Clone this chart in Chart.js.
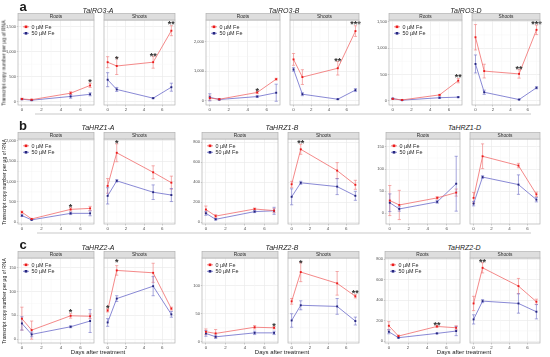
<!DOCTYPE html>
<html><head><meta charset="utf-8">
<script src="https://cdn.jsdelivr.net/npm/chart.js@4.4.1/dist/chart.umd.min.js"></script>
<style>
html,body{margin:0;padding:0;background:#fff;}
#wrap{position:relative;width:550px;height:357px;overflow:hidden;font-family:"Liberation Sans",Arial,sans-serif;}
canvas{position:absolute;}
.t{position:absolute;white-space:nowrap;color:#1a1a1a;line-height:1;}
.sep{position:absolute;height:1.5px;background:#e4e4e4;}
</style></head>
<body><div id="wrap"></div>
<script>
// ---------------- data ----------------
const days = [0, 1, 5, 7];
const xTickValues = [0, 2, 4, 6];
const genes = ['TaIRO3-A','TaIRO3-B','TaIRO3-D','TaHRZ1-A','TaHRZ1-B','TaHRZ1-D','TaHRZ2-A','TaHRZ2-B','TaHRZ2-D'];
const rowLetters = ['a','b','c'];
const seriesNames = ['0 \u00b5M Fe','50 \u00b5M Fe'];
const facetNames = ['Roots','Shoots'];
const yAxisTitle = 'Transcript copy number per \u00b5g of RNA';
const xAxisTitle = 'Days after treatment';

const roots0 = [
  [55,40,170,325],[90,50,280,730],[40,20,115,384],
  [250,82,318,342],[128,62,133,117],[29,19,35,47],
  [43,19,49,48],[18,15,26,25],[150,49,143,130]];
const roots0Err = [
  [15,10,30,40],[70,20,40,30],[8,5,10,40],
  [25,15,40,50],[35,15,10,20],[34,33,3,8],
  [24,19,5,5],[5,7,3,2],[40,10,10,20]];
const roots50 = [
  [50,30,105,148],[115,40,140,270],[45,15,62,72],
  [165,60,220,220],[90,30,107,115],[24,10,26,67],
  [33,10,26,38],[15,9,16,16],[91,33,75,98]];
const roots50Err = [
  [10,8,35,30],[120,20,30,290],[8,5,15,10],
  [20,10,30,60],[20,8,10,35],[20,5,3,62],
  [14,5,2,24],[5,3,3,3],[20,5,5,45]];
const shoots0 = [
  [790,714,790,1420],[1400,800,1100,2360],[1205,565,512,1345],
  [895,1710,1230,975],[380,730,517,375],[35,129,108,43],
  [60,144,139,64],[72,124,104,81],[368,717,538,385]];
const shoots0Err = [
  [110,170,120,100],[200,250,230,180],[240,130,80,90],
  [180,220,160,160],[30,50,80,45],[12,28,5,5],
  [3,10,20,3],[5,17,21,3],[70,50,75,25]];
const shoots50 = [
  [440,245,70,290],[1060,220,50,360],[700,165,27,250],
  [650,1020,740,670],[255,395,357,265],[22,82,65,31],
  [35,85,111,52],[38,65,63,37],[212,391,368,287]];
const shoots50Err = [
  [140,40,10,80],[60,50,10,50],[170,40,5,20],
  [200,30,180,160],[80,15,80,45],[5,3,22,5],
  [8,6,20,6],[12,8,14,7],[45,15,95,70]];
// significance marks: [day, height, label]
const rootsStars = [
  [[7,414,'*']],[[5,386,'*']],[[7,472,'**']],
  [[5,408,'*']],[],[],
  [[5,61,'*']],[[7,31,'*']],[[5,173,'**']]];
const shootsStars = [
  [[1,888,'*'],[5,948,'**'],[7,1588,'**']],[[5,1403,'**'],[7,2644,'***']],[[5,637,'**'],[7,1487,'***']],
  [[1,1984,'*']],[[1,810,'**']],[],
  [[0,69,'*'],[1,164,'*']],[[1,143,'*'],[7,90,'**']],[[1,785,'**']]];
// y axis ranges / tick step
const yMin = [-66,-146,-76, -42,-17,-24, -8,-2,-19];
const yMax = [1634,2736,1531, 2049,833,168, 170,149,813];
const yStep = [500,1000,500, 500,200,50, 50,50,200];
const xMin = -0.4, xMax = 7.4;

// ---------------- layout / style ----------------
const FONT = '"Liberation Sans", Arial, sans-serif';
const rowTop = [20, 139, 258];
const rowBottom = [105, 224, 343];
const panelLeft = [[18,206,389],[18,202,386],[18,202,385]];
const panelRight = [178,362,543];
const GAP = 3, YW = 20, STRIP = 7, XH = 7;
const C = {
  line: ['rgba(240,100,100,0.85)','rgba(100,100,200,0.85)'],
  err: ['rgba(240,120,120,0.75)','rgba(110,110,200,0.75)'],
  pt: ['#ec1c1c','#25257f']
};
const wrap = document.getElementById('wrap');

function addText(txt, x, y, css) {
  const d = document.createElement('div');
  d.className = 't'; d.textContent = txt;
  d.style.cssText += css;
  d.style.left = x + 'px'; d.style.top = y + 'px';
  wrap.appendChild(d);
  return d;
}

function facetPlugin(g, f) {
  const isRoots = f === 0;
  const series = [
    {mean: isRoots ? roots0[g] : shoots0[g], err: isRoots ? roots0Err[g] : shoots0Err[g], k: 0},
    {mean: isRoots ? roots50[g] : shoots50[g], err: isRoots ? roots50Err[g] : shoots50Err[g], k: 1}
  ];
  const stars = isRoots ? rootsStars[g] : shootsStars[g];
  return {
    id: 'facet',
    beforeDatasetsDraw(chart) {
      const {ctx, chartArea: a, scales: {x, y}} = chart;
      ctx.save();
      ctx.strokeStyle = '#f4f4f4'; ctx.lineWidth = 0.5;
      ctx.beginPath();
      for (let v = yStep[g] / 2; v < yMax[g]; v += yStep[g]) {
        const py = y.getPixelForValue(v); ctx.moveTo(a.left, py); ctx.lineTo(a.right, py);
      }
      [1, 3, 5, 7].forEach(v => { const px = x.getPixelForValue(v); ctx.moveTo(px, a.top); ctx.lineTo(px, a.bottom); });
      ctx.stroke();
      series.forEach(s => {
        ctx.strokeStyle = C.err[s.k]; ctx.lineWidth = 0.8;
        ctx.beginPath();
        days.forEach((d, i) => {
          const px = x.getPixelForValue(d);
          const y1 = y.getPixelForValue(s.mean[i] - s.err[i]);
          const y2 = y.getPixelForValue(s.mean[i] + s.err[i]);
          ctx.moveTo(px, y1); ctx.lineTo(px, y2);
          ctx.moveTo(px - 1.6, y1); ctx.lineTo(px + 1.6, y1);
          ctx.moveTo(px - 1.6, y2); ctx.lineTo(px + 1.6, y2);
        });
        ctx.stroke();
      });
      ctx.restore();
    },
    afterDatasetsDraw(chart) {
      const {ctx, scales: {x, y}} = chart;
      ctx.save();
      ctx.fillStyle = '#333';
      ctx.font = 'bold 9px ' + FONT;
      ctx.textAlign = 'center'; ctx.textBaseline = 'middle';
      stars.forEach(([d, v, lab]) => {
        ctx.fillText(lab, x.getPixelForValue(d), y.getPixelForValue(v) + 2);
      });
      ctx.restore();
    },
    afterDraw(chart) {
      const {ctx, chartArea: a} = chart;
      ctx.save();
      ctx.strokeStyle = '#b3b3b3'; ctx.lineWidth = 0.7;
      ctx.strokeRect(a.left, a.top, a.right - a.left, a.bottom - a.top);
      ctx.fillStyle = '#dedede';
      ctx.fillRect(a.left, a.top - STRIP + 0.5, a.right - a.left, STRIP - 0.5);
      ctx.strokeRect(a.left, a.top - STRIP + 0.5, a.right - a.left, STRIP - 0.5);
      ctx.fillStyle = '#2a2a2a';
      ctx.font = '4.8px ' + FONT;
      ctx.textAlign = 'center'; ctx.textBaseline = 'middle';
      ctx.fillText(facetNames[f], (a.left + a.right) / 2, a.top - STRIP / 2 + 0.6);
      if (isRoots) {
        ctx.font = '5.4px ' + FONT;
        ctx.textAlign = 'left';
        [0, 1].forEach(k => {
          const ly = a.top + 6.8 + k * 6.5;
          ctx.strokeStyle = C.line[k]; ctx.lineWidth = 0.9;
          ctx.beginPath(); ctx.moveTo(a.left + 5, ly); ctx.lineTo(a.left + 11, ly); ctx.stroke();
          ctx.fillStyle = C.pt[k];
          ctx.fillRect(a.left + 6.7, ly - 1.3, 2.6, 2.6);
          ctx.fillStyle = '#2a2a2a';
          ctx.fillText(seriesNames[k], a.left + 13.5, ly + 0.3);
        });
      }
      ctx.restore();
    }
  };
}

function makeFacet(g, f, left, top, pw, ph) {
  const isRoots = f === 0;
  const yw = isRoots ? YW : 0;
  const W = pw + yw + 1, H = ph + STRIP + XH;
  const cv = document.createElement('canvas');
  cv.width = W; cv.height = H;
  cv.style.width = W + 'px'; cv.style.height = H + 'px';
  cv.style.left = (left - yw) + 'px'; cv.style.top = (top - STRIP) + 'px';
  wrap.appendChild(cv);
  const means = isRoots ? [roots0[g], roots50[g]] : [shoots0[g], shoots50[g]];
  new Chart(cv, {
    type: 'line',
    data: {
      datasets: [0, 1].map(k => ({
        label: seriesNames[k],
        data: days.map((d, i) => ({x: d, y: means[k][i]})),
        borderColor: C.line[k], borderWidth: 0.9,
        pointStyle: 'rect', pointRadius: 1.35, pointBorderWidth: 0,
        pointBackgroundColor: C.pt[k], tension: 0, fill: false
      }))
    },
    options: {
      responsive: false, animation: false, devicePixelRatio: 1,
      layout: {padding: {top: STRIP, right: 1, left: 0, bottom: 0}},
      plugins: {legend: {display: false}, title: {display: false}, tooltip: {enabled: false}},
      scales: {
        x: {
          type: 'linear', min: xMin, max: xMax,
          afterBuildTicks: s => { s.ticks = xTickValues.map(v => ({value: v})); },
          afterFit: s => { s.height = XH; s.paddingLeft = 0; s.paddingRight = 0; },
          ticks: {font: {size: 4.4, family: FONT}, color: '#4d4d4d', padding: 0.5, maxRotation: 0, autoSkip: false},
          grid: {color: '#e8e8e8', lineWidth: 0.6, drawTicks: true, tickLength: 1.5, tickColor: '#999', tickWidth: 0.5},
          border: {display: false}
        },
        y: {
          type: 'linear', min: yMin[g], max: yMax[g],
          afterBuildTicks: s => { const t = []; for (let v = 0; v <= yMax[g]; v += yStep[g]) t.push({value: v}); s.ticks = t; },
          afterFit: s => { s.width = yw; s.paddingTop = 0; s.paddingBottom = 0; },
          ticks: {display: isRoots, font: {size: 4, family: FONT}, color: '#4d4d4d', padding: 0.8,
                  callback: v => Number(v).toLocaleString('en-US')},
          grid: {color: '#e8e8e8', lineWidth: 0.6, drawTicks: isRoots, tickLength: 1.2, tickColor: '#999', tickWidth: 0.5},
          border: {display: false}
        }
      }
    },
    plugins: [facetPlugin(g, f)]
  });
}

for (let r = 0; r < 3; r++) {
  const top = rowTop[r], bottom = rowBottom[r];
  for (let c = 0; c < 3; c++) {
    const g = r * 3 + c;
    const L = panelLeft[r][c], R = panelRight[c];
    const w = Math.round((R - L - GAP) / 2);
    makeFacet(g, 0, L, top, w, bottom - top);
    makeFacet(g, 1, L + w + GAP, top, R - (L + w + GAP), bottom - top);
    const tcy = [10, 127, 246.5][r];
    addText(genes[g], (L + R) / 2, tcy, 'font-size:7px;font-style:italic;transform:translate(-50%,-50%);');
    if (r === 2) addText(xAxisTitle, (L + R) / 2, 351.5, 'font-size:6px;transform:translate(-50%,-50%);');
  }
  addText(rowLetters[r], 23, [7, 126, 245][r], 'font-size:13px;font-weight:bold;transform:translate(-50%,-55%);');
  addText(yAxisTitle, 3.6, (top + bottom) / 2, 'font-size:5px;transform:translate(-50%,-50%) rotate(-90deg);');
}
// light separators between rows
[[113, 35, 531], [232, 37, 531]].forEach(([y, x1, x2]) => {
  const d = document.createElement('div'); d.className = 'sep';
  d.style.top = y + 'px'; d.style.left = x1 + 'px'; d.style.width = (x2 - x1) + 'px';
  wrap.appendChild(d);
});
</script>
</body></html>
